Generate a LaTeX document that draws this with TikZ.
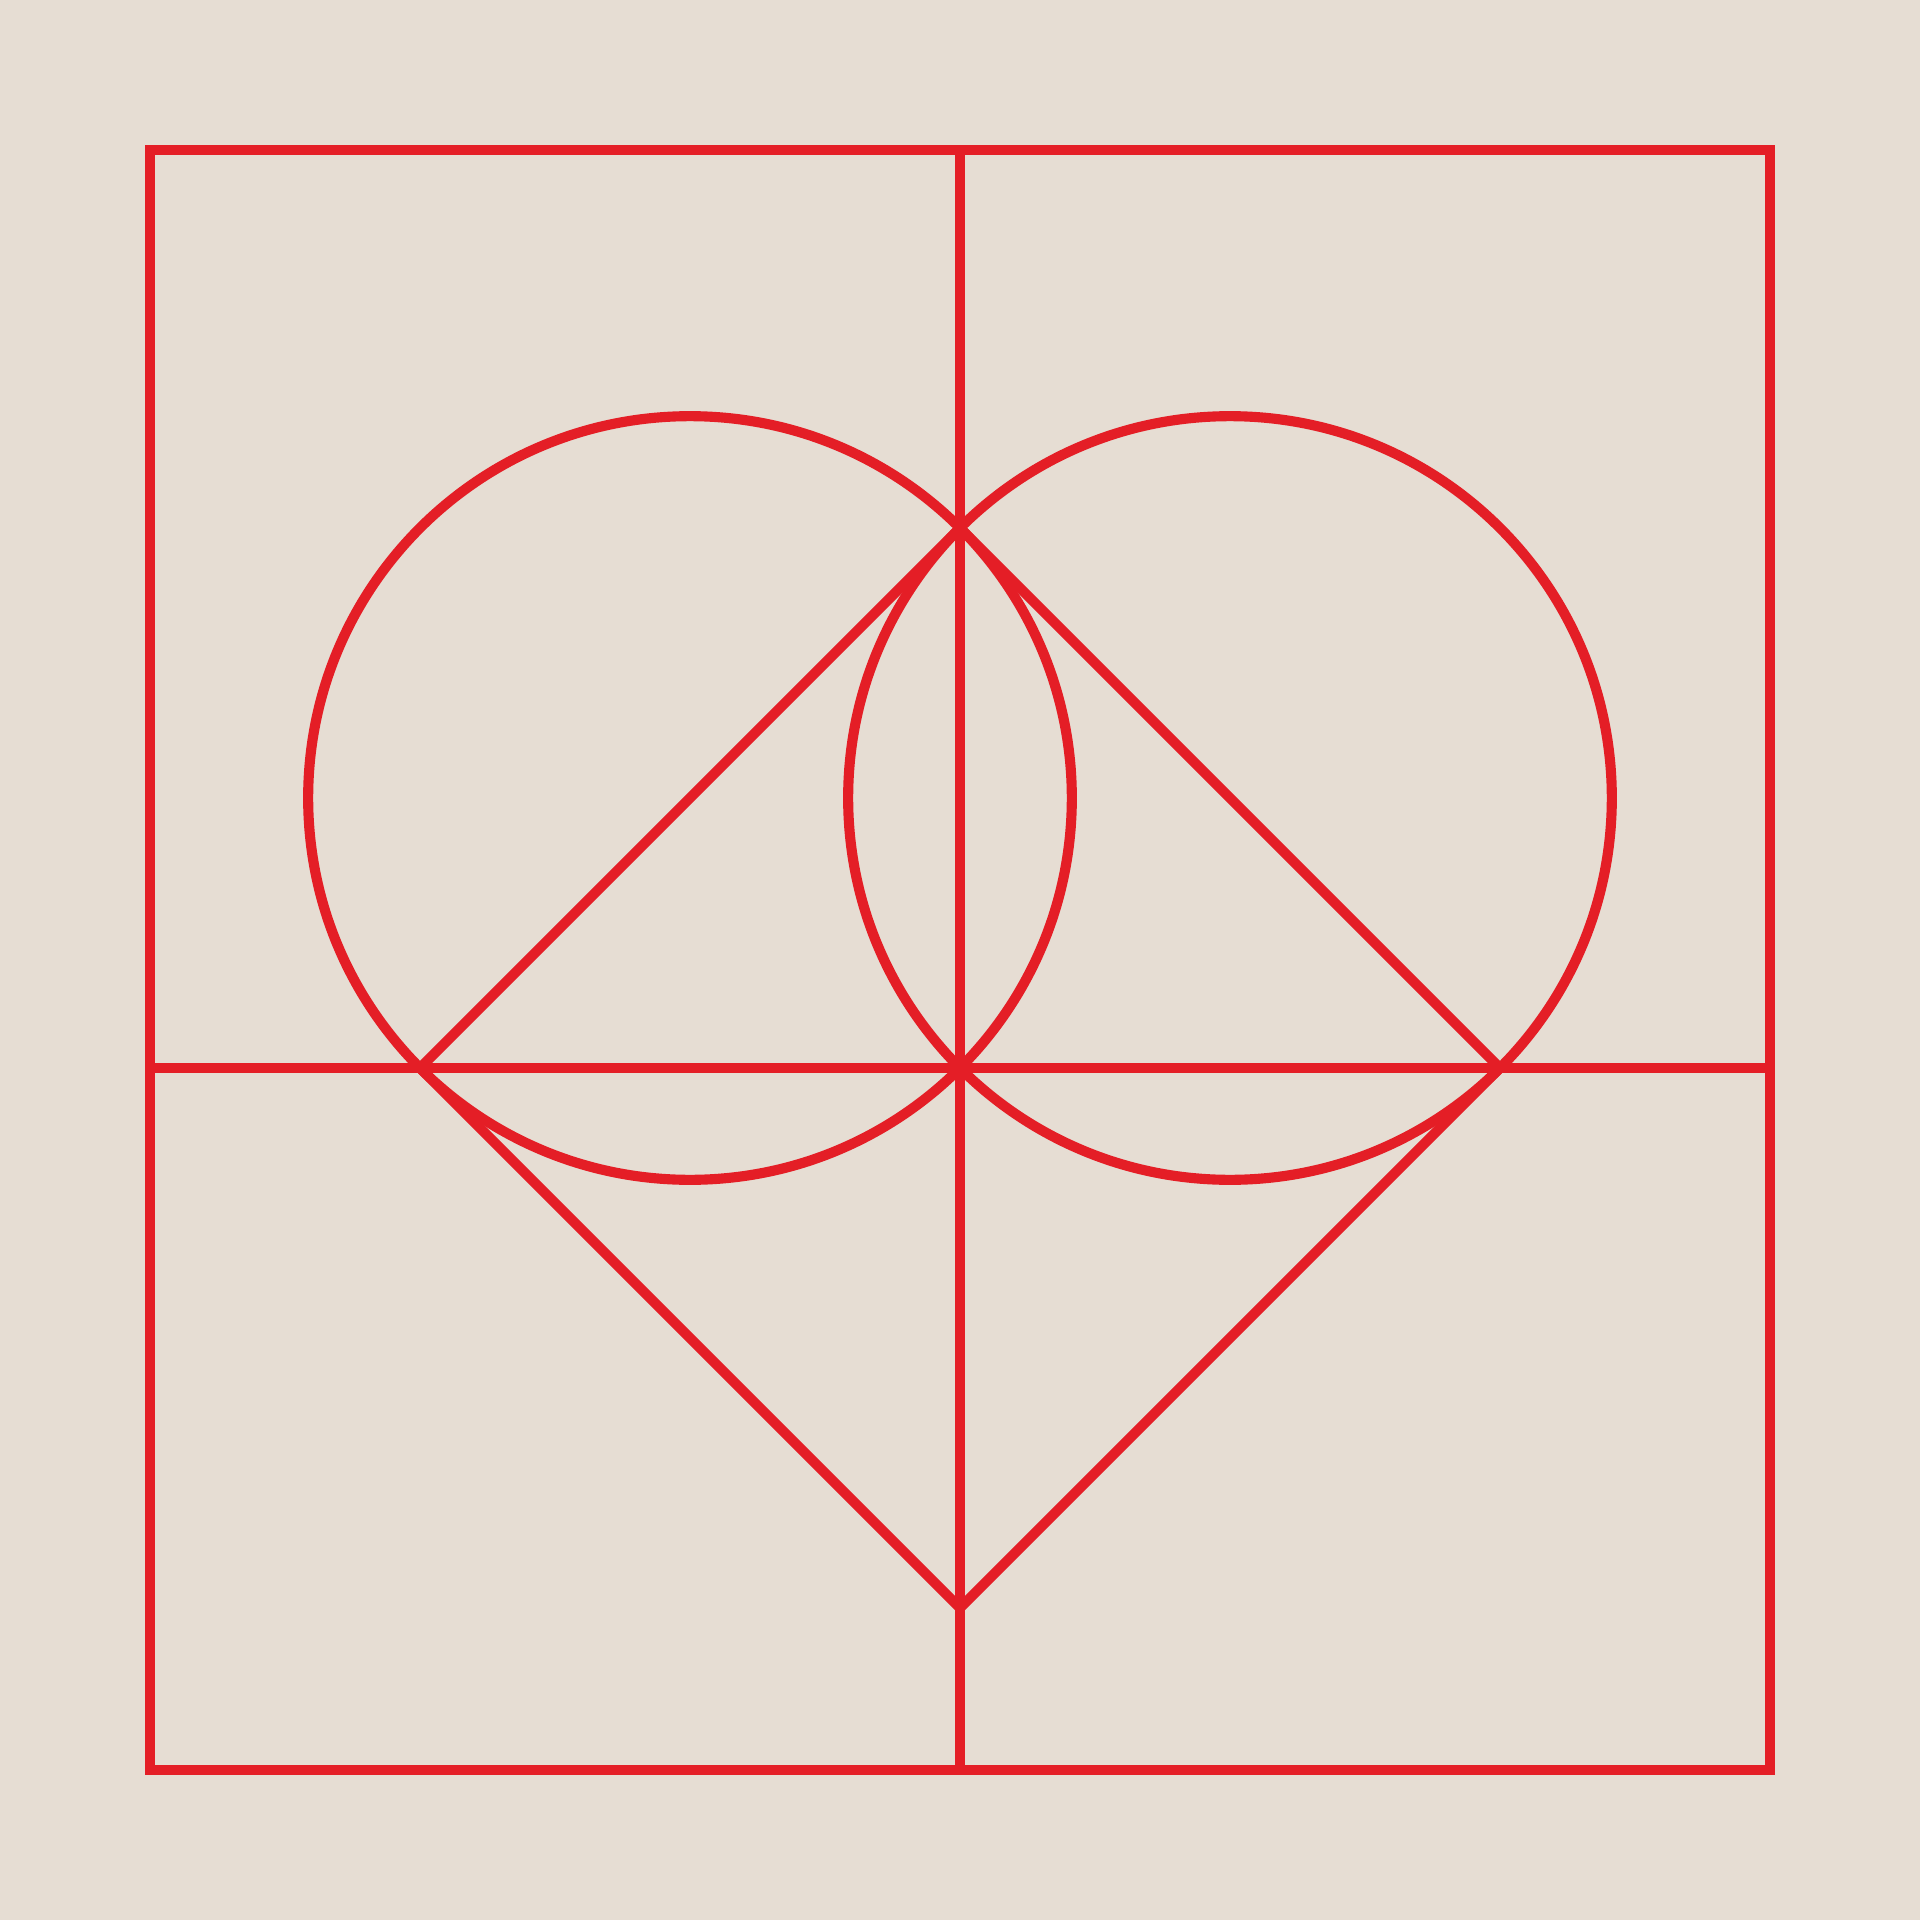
\documentclass[tikz,border=0pt]{standalone}
\usepackage{tikz}
\definecolor{paper}{RGB}{230,221,211}
\definecolor{heartred}{RGB}{228,30,38}
\tikzstyle{guide}=[draw=heartred,line width=2.4pt]
\tikzstyle{ring} = [guide]

\begin{document}
\begin{tikzpicture}[x=2.25cm,y=2.25cm]
        \fill[paper] (-3.5556,-3.1556) rectangle (3.5556,3.9556);
        \useasboundingbox (-3.5556,-3.1556) rectangle (3.5556,3.9556);
        \coordinate (top) at (0,2);
        \coordinate (left) at (-2,0);
        \coordinate (right) at (2,0);
        \coordinate (bottom) at (0,-2);
        \coordinate (mid) at (0,0);
        \coordinate (lc) at (-1,1);
        \coordinate (rc) at (1,1);
        \draw[guide] (-3,-2.6) rectangle (3,3.4);
        \draw[guide] (0,3.4) -- (0,-2.6);
        \draw[guide] (-3,0) -- (3,0);
        \draw[ring] (lc) circle ({sqrt(2)});
        \draw[ring] (rc) circle ({sqrt(2)});
        \draw[guide] (top) -- (right) -- (bottom) -- (left) -- cycle;
      \end{tikzpicture}
\end{document}
